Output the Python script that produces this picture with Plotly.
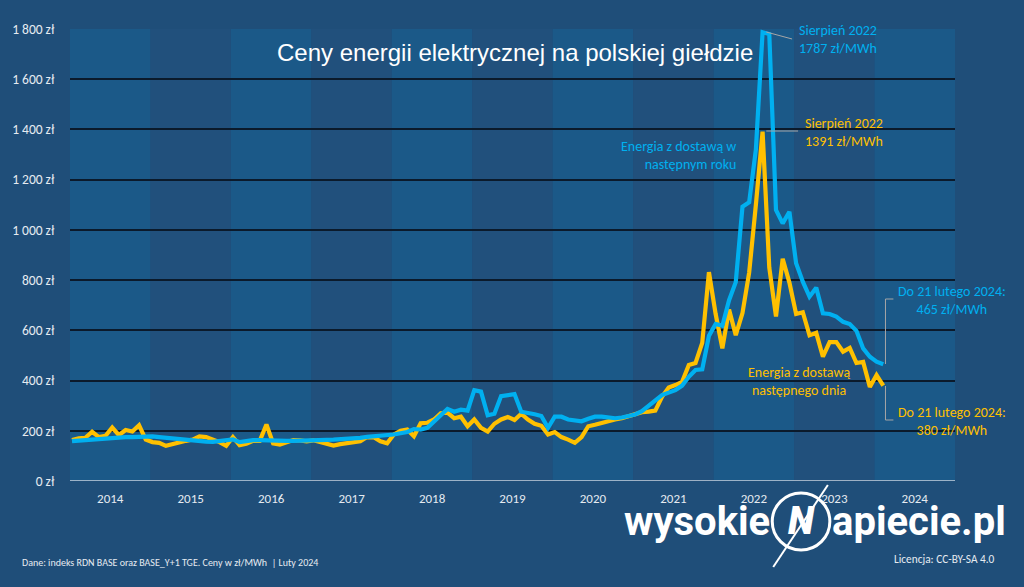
import plotly.graph_objects as go

# ---------------- data ----------------
years = [str(y) for y in range(2014, 2025)]
months = [f"{y}-{m:02d}" for y in range(2014, 2025) for m in range(1, 13)][:122]

# RDN BASE (energy delivered next day), zł/MWh, monthly
rdn_base = [
    163, 170, 172, 196, 175, 180, 213, 183, 203, 197, 222, 165,      # 2014
    155, 152, 140, 148, 155, 160, 165, 178, 175, 165, 155, 140,      # 2015
    175, 143, 148, 160, 160, 225, 150, 145, 155, 163, 162, 158,      # 2016
    162, 155, 148, 141, 147, 152, 155, 158, 175, 174, 158, 150,      # 2017
    185, 200, 205, 178, 230, 232, 245, 270, 272, 250, 256, 218,      # 2018
    245, 212, 197, 228, 245, 255, 243, 268, 245, 228, 220, 185,      # 2019
    195, 175, 165, 152, 175, 218, 224, 232, 240, 245, 250, 258,      # 2020
    268, 274, 276, 280, 335, 372, 382, 395, 462, 470, 550, 832,      # 2021
    665, 528, 683, 581, 669, 830, 1100, 1391, 850, 655, 885, 790,    # 2022
    665, 672, 580, 590, 495, 553, 553, 515, 530, 470, 474, 374,      # 2023
    422, 380,                                                        # 2024
]

# BASE_Y+1 (energy delivered next year), zł/MWh, monthly
base_y1 = [
    159, 162, 164, 166, 167, 169, 172, 174, 175, 175, 177, 179,      # 2014
    178, 175, 172, 169, 166, 163, 161, 159, 157, 156, 160, 165,      # 2015
    166, 155, 160, 163, 163, 162, 158, 158, 160, 160, 160, 161,      # 2016
    162, 163, 164, 165, 166, 167, 168, 172, 176, 178, 179, 180,      # 2017
    185, 190, 195, 207, 205, 212, 235, 262, 287, 276, 284, 280,      # 2018
    362, 356, 262, 268, 338, 340, 346, 276, 272, 266, 259, 212,      # 2019
    256, 256, 245, 240, 238, 248, 256, 256, 252, 250, 253, 258,      # 2020
    265, 278, 300, 318, 342, 352, 362, 380, 415, 442, 445, 578,      # 2021
    625, 618, 720, 792, 1092, 1110, 1320, 1787, 1780, 1079, 1026, 1072,  # 2022
    867, 794, 734, 770, 668, 665, 655, 634, 625, 598, 528, 495,      # 2023
    475, 465,                                                        # 2024
]

y_ticks = [0, 200, 400, 600, 800, 1000, 1200, 1400, 1600, 1800]
y_ticktext = ["0 zł", "200 zł", "400 zł", "600 zł", "800 zł", "1 000 zł",
              "1 200 zł", "1 400 zł", "1 600 zł", "1 800 zł"]

# ---------------- style ----------------
BG = "#1f4e79"
BAND_LIGHT = "#1b5988"
BAND_DARK = "#21507c"
BLUE = "#00b0f0"
YELLOW = "#ffc000"
GRAY = "#a6a6a6"
TXT = "#e6ebf1"
CAL = "Carlito, Lato, sans-serif"

W, H = 1024, 587
PL, PR, PT, PB = 64, 955, 29, 481


def px(x):
    return (x - PL) / (PR - PL)


def py(y):
    return (PB - y) / (PB - PT)


x_idx = list(range(len(months)))
x0 = -0.3
x1 = x0 + 12 * len(years)

fig = go.Figure()
fig.add_trace(go.Scatter(x=x_idx, y=rdn_base, mode="lines", name="RDN",
                         line=dict(color=YELLOW, width=4.2), hoverinfo="skip"))
fig.add_trace(go.Scatter(x=x_idx, y=base_y1, mode="lines", name="Y+1",
                         line=dict(color=BLUE, width=4.2), hoverinfo="skip"))

shapes = []
for i, yr in enumerate(years):
    shapes.append(dict(type="rect", xref="x", yref="paper",
                       x0=x0 + 12 * i, x1=x0 + 12 * (i + 1), y0=0, y1=1,
                       fillcolor=BAND_LIGHT if i % 2 == 0 else BAND_DARK,
                       line=dict(width=0), layer="below"))
# zero line
shapes.append(dict(type="line", xref="paper", yref="y", x0=0, x1=1, y0=0, y1=0,
                   line=dict(color="#c9d2de", width=1.5), layer="above"))
# leader lines
shapes.append(dict(type="line", xref="paper", yref="paper",
                   x0=px(765), y0=py(32), x1=px(791), y1=py(39),
                   line=dict(color=GRAY, width=1)))
shapes.append(dict(type="line", xref="paper", yref="paper",
                   x0=px(765), y0=py(131), x1=px(797), y1=py(131),
                   line=dict(color=GRAY, width=1)))
shapes.append(dict(type="path", xref="paper", yref="paper",
                   path=f"M {px(885)} {py(364)} L {px(885)} {py(299)} L {px(893)} {py(299)}",
                   line=dict(color=GRAY, width=1)))
shapes.append(dict(type="path", xref="paper", yref="paper",
                   path=f"M {px(885)} {py(386)} L {px(885)} {py(420)} L {px(893)} {py(420)}",
                   line=dict(color=GRAY, width=1)))
# logo circle and bolt
shapes.append(dict(type="circle", xref="paper", yref="paper",
                   x0=px(771), x1=px(829), y0=py(493), y1=py(550),
                   line=dict(color="white", width=3)))
shapes.append(dict(type="line", xref="paper", yref="paper",
                   x0=px(772), y0=py(567), x1=px(827), y1=py(485),
                   line=dict(color="white", width=2)))

annotations = []


def ann(text, x, y, color, size=14, xanchor="left", align="left", family=CAL, weight=None):
    font = dict(color=color, size=size, family=family)
    if weight:
        font["weight"] = weight
    annotations.append(dict(text=text, xref="paper", yref="paper", x=px(x), y=py(y),
                            xanchor=xanchor, yanchor="middle", align=align,
                            showarrow=False, font=font))


ann("Ceny energii elektrycznej na polskiej giełdzie", 512, 53, "white", size=24,
    xanchor="center", align="center", family="Liberation Sans, Arial, sans-serif")
ann("Sierpień 2022<br>1787 zł/MWh", 796, 40, BLUE)
ann("Sierpień 2022<br>1391 zł/MWh", 802, 132, YELLOW)
ann("Energia z dostawą w<br>następnym roku", 737, 155, BLUE, xanchor="right", align="right")
ann("Energia z dostawą<br>następnego dnia", 798, 381, YELLOW, xanchor="center", align="center")
ann("Do 21 lutego 2024:<br>465 zł/MWh", 952, 300, BLUE, xanchor="center", align="center")
ann("Do 21 lutego 2024:<br>380 zł/MWh", 952, 421, YELLOW, xanchor="center", align="center")
ann("Dane: indeks RDN BASE oraz BASE_Y+1 TGE. Ceny w zł/MWh  | Luty 2024", 14, 562, TXT, size=10)
ann("Licencja: CC-BY-SA 4.0", 997, 559, TXT, size=11.3, xanchor="right", align="right")
# logo
ann("wysokie", 771, 521, "white", size=40, xanchor="right", family="Roboto, sans-serif", weight=700)
ann("apiecie.pl", 829, 521, "white", size=40, xanchor="left", family="Roboto, sans-serif", weight=700)
ann("<i>N</i>", 800, 521, "white", size=38, xanchor="center", align="center",
    family="Roboto, sans-serif", weight=900)

fig.update_layout(
    width=W, height=H,
    margin=dict(l=PL, r=W - PR, t=PT, b=H - PB, pad=0),
    paper_bgcolor=BG, plot_bgcolor=BG,
    showlegend=False,
    shapes=shapes, annotations=annotations,
    xaxis=dict(range=[x0, x1], tickvals=[x0 + 6 + 12 * i for i in range(len(years))],
               ticktext=years, showgrid=False, zeroline=False, showline=False,
               ticks="outside", ticklen=5, tickcolor="rgba(0,0,0,0)",
               tickfont=dict(color=TXT, size=13, family=CAL), fixedrange=True),
    yaxis=dict(range=[0, 1800], tickvals=y_ticks, ticktext=y_ticktext,
               showgrid=True, gridcolor="#0b1a2b", gridwidth=2, zeroline=False,
               showline=False, ticks="outside", ticklen=12, tickcolor="rgba(0,0,0,0)",
               tickfont=dict(color=TXT, size=13.5, family=CAL), fixedrange=True),
)

fig.write_html("out.html")
